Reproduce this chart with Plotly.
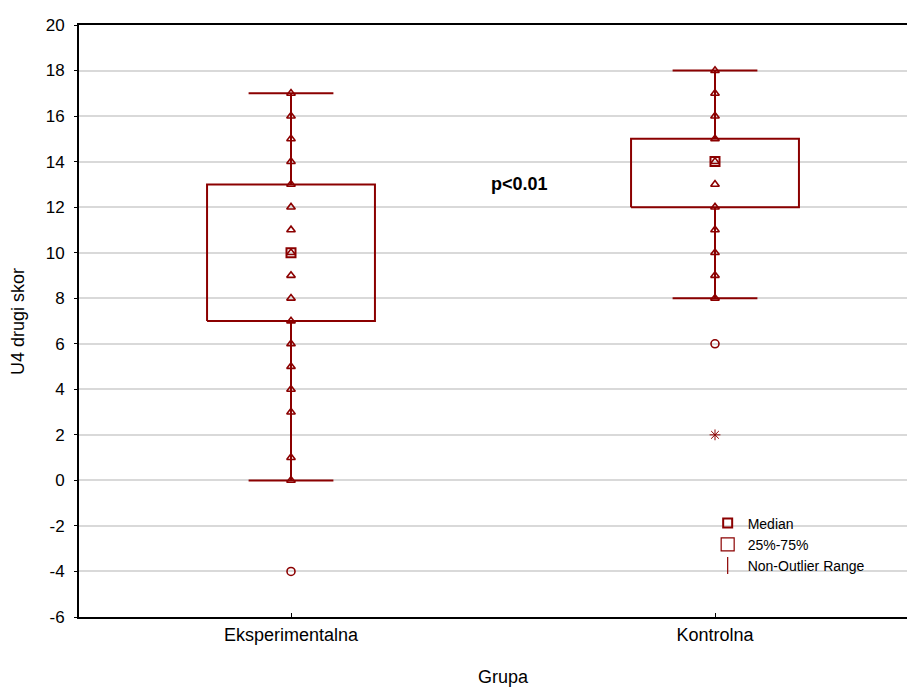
import plotly.graph_objects as go

# ---- data ----
categories = ["Eksperimentalna", "Kontrolna"]
q1 = [7, 12]
q3 = [13, 15]
medians = [10, 14]
lower_whisker = [0, 8]
upper_whisker = [17, 18]
points_exp = [17, 16, 15, 14, 13, 12, 11, 10, 9, 8, 7, 6, 5, 4, 3, 1, 0]
points_kon = [18, 17, 16, 15, 14, 13, 12, 11, 10, 9, 8]
outliers_exp = [-4]
outliers_kon = [6]
extremes_kon = [2]
y_ticks = list(range(-6, 21, 2))
y_tick_labels = [str(v) for v in y_ticks]
annotation_text = "p<0.01"

RED = "#8B0000"
FONT = "Liberation Sans, Arial, sans-serif"
BOX_HALF = 0.198
CAP_HALF = 0.1

fig = go.Figure()

# boxes (25%-75%)
bx, by = [], []
for i in range(len(categories)):
    bx += [i - BOX_HALF, i + BOX_HALF, i + BOX_HALF, i - BOX_HALF, i - BOX_HALF, None]
    by += [q1[i], q1[i], q3[i], q3[i], q1[i], None]
fig.add_trace(go.Scatter(x=bx, y=by, mode="lines",
                         line=dict(color=RED, width=2), name="25%-75%",
                         showlegend=False, hoverinfo="skip"))

# whiskers (non-outlier range)
wx, wy = [], []
for i in range(len(categories)):
    wx += [i, i, None, i, i, None,
           i - CAP_HALF, i + CAP_HALF, None, i - CAP_HALF, i + CAP_HALF, None]
    wy += [q3[i], upper_whisker[i], None, q1[i], lower_whisker[i], None,
           upper_whisker[i], upper_whisker[i], None,
           lower_whisker[i], lower_whisker[i], None]
fig.add_trace(go.Scatter(x=wx, y=wy, mode="lines",
                         line=dict(color=RED, width=2),
                         showlegend=False, hoverinfo="skip"))

# raw points
for i, pts in enumerate([points_exp, points_kon]):
    fig.add_trace(go.Scatter(x=[i] * len(pts), y=pts, mode="markers",
                             marker=dict(symbol="triangle-up-open", size=7.5, color=RED,
                                         line=dict(width=1.6, color=RED)),
                             showlegend=False))

# outliers and extremes
fig.add_trace(go.Scatter(x=[0] * len(outliers_exp) + [1] * len(outliers_kon),
                         y=outliers_exp + outliers_kon, mode="markers",
                         marker=dict(symbol="circle-open", size=8, color=RED,
                                     line=dict(width=1.6, color=RED)),
                         showlegend=False))
fig.add_trace(go.Scatter(x=[1] * len(extremes_kon), y=extremes_kon, mode="markers",
                         marker=dict(symbol="asterisk-open", size=9, color=RED,
                                     line=dict(width=1, color=RED)),
                         showlegend=False))

# medians
fig.add_trace(go.Scatter(x=list(range(len(categories))), y=medians, mode="markers",
                         marker=dict(symbol="square-open", size=9, color=RED,
                                     line=dict(width=2, color=RED)),
                         name="Median", showlegend=True))

# legend entries
fig.add_trace(go.Scatter(x=[None], y=[None], mode="markers",
                         marker=dict(symbol="square-open", size=13, color=RED,
                                     line=dict(width=1.2, color=RED)),
                         name="25%-75%"))
fig.add_trace(go.Scatter(x=[None], y=[None], mode="markers",
                         marker=dict(symbol="line-ns-open", size=12, color=RED,
                                     line=dict(width=1.2, color=RED)),
                         name="Non-Outlier Range"))

fig.add_annotation(x=0.54, y=13, xref="x", yref="y", text="<b>%s</b>" % annotation_text,
                   showarrow=False, font=dict(size=18, color="black", family=FONT))
fig.add_annotation(x=0.5, y=-0.101, xref="x", yref="paper", text="Grupa",
                   showarrow=False, yanchor="middle",
                   font=dict(size=18, color="black", family=FONT))
fig.add_annotation(x=-61 / 836, y=0.5, xref="paper", yref="paper", text="U4 drugi skor",
                   showarrow=False, textangle=-90, xanchor="center", yanchor="middle",
                   font=dict(size=18, color="black", family=FONT))

fig.update_layout(
    width=915, height=689,
    margin=dict(l=71, r=8, t=17, b=80),
    paper_bgcolor="white", plot_bgcolor="white",
    font=dict(family=FONT, color="black", size=16),
    showlegend=True,
    legend=dict(x=0.752, y=0.185, xanchor="left", yanchor="top",
                bgcolor="rgba(0,0,0,0)", font=dict(size=14, family=FONT),
                itemsizing="trace", tracegroupgap=0),
)
fig.update_xaxes(
    range=[-0.5, 1 + 200 / 424], tickvals=list(range(len(categories))),
    ticktext=categories, ticks="inside", ticklen=4, tickcolor="black",
    showline=True, linecolor="black", linewidth=2, mirror=True,
    showgrid=False, zeroline=False, tickfont=dict(size=18, family=FONT),
    automargin=False,
)
fig.update_yaxes(
    range=[-6, 20], tickvals=y_ticks, ticktext=y_tick_labels,
    ticks="outside", ticklen=3,
    tickcolor="black", showline=True, linecolor="black", linewidth=2,
    showgrid=True, gridcolor="#d9d9d9", gridwidth=1.5, zeroline=False,
    tickfont=dict(size=17, family=FONT), ticklabelstandoff=6,
    automargin=False,
)

fig.write_html("out.html")
